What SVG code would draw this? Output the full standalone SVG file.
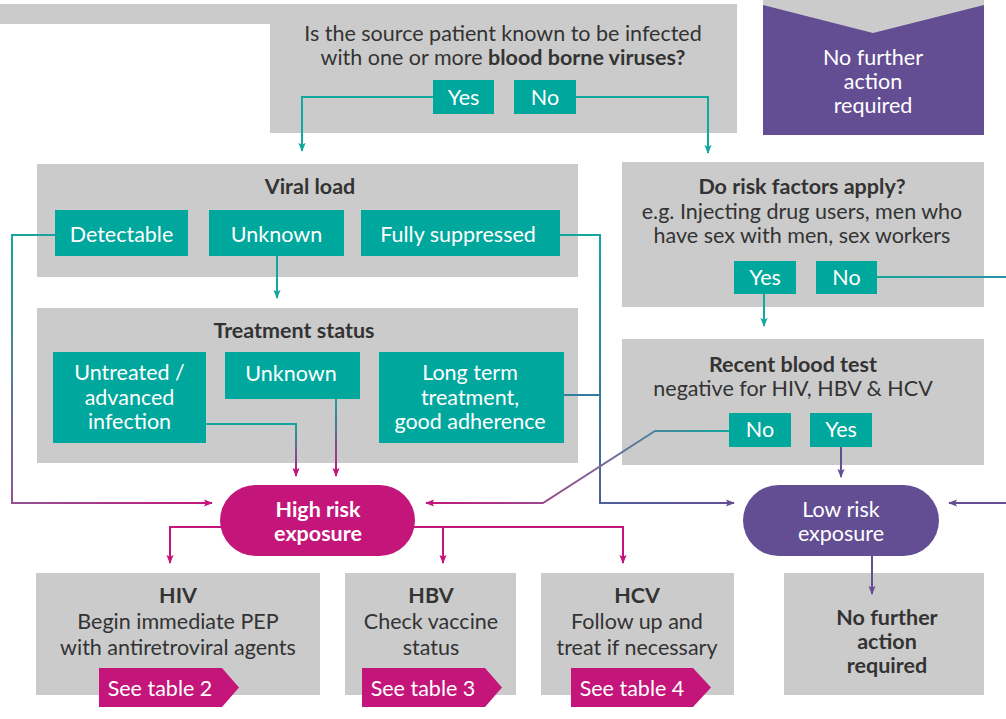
<svg xmlns="http://www.w3.org/2000/svg" width="1006" height="719" viewBox="0 0 1006 719">
<style>
  text { font-family: Lato, "Open Sans", "Liberation Sans", sans-serif; font-size: 21.5px; text-anchor: middle; }
  .box { fill: #cbcbcb; }
  .btn { fill: #00a79d; }
  .t { fill: #333333; }
  .b { font-weight: bold; }
  .w { fill: #ffffff; }
  .hi { fill: #c4157a; }
  .lo { fill: #634e93; }
  .ln { fill: none; stroke-width: 2; }
  .teal { stroke: #13a89e; }
  .mag { stroke: #c4157a; }
  .pur { stroke: #634e93; }
</style>
<defs>
  <marker id="aT" viewBox="0 0 10 10" refX="9" refY="5" markerWidth="9" markerHeight="9" markerUnits="userSpaceOnUse" orient="auto"><path d="M0,1 L10,5 L0,9 L2,5 z" fill="#13a89e"/></marker>
  <marker id="aM" viewBox="0 0 10 10" refX="9" refY="5" markerWidth="9" markerHeight="9" markerUnits="userSpaceOnUse" orient="auto"><path d="M0,1 L10,5 L0,9 L2,5 z" fill="#c4157a"/></marker>
  <marker id="aP" viewBox="0 0 10 10" refX="9" refY="5" markerWidth="9" markerHeight="9" markerUnits="userSpaceOnUse" orient="auto"><path d="M0,1 L10,5 L0,9 L2,5 z" fill="#634e93"/></marker>
  <linearGradient id="gDet" gradientUnits="userSpaceOnUse" x1="12" y1="235" x2="212" y2="503"><stop offset="0" stop-color="#13a89e"/><stop offset="0.6" stop-color="#8a5a95"/><stop offset="1" stop-color="#c4157a"/></linearGradient>
  <linearGradient id="gTM1" gradientUnits="userSpaceOnUse" x1="0" y1="424" x2="0" y2="476"><stop offset="0" stop-color="#13a89e"/><stop offset="1" stop-color="#c4157a"/></linearGradient>
  <linearGradient id="gTM2" gradientUnits="userSpaceOnUse" x1="0" y1="399" x2="0" y2="476"><stop offset="0" stop-color="#13a89e"/><stop offset="1" stop-color="#c4157a"/></linearGradient>
  <linearGradient id="gSup" gradientUnits="userSpaceOnUse" x1="600" y1="235" x2="734" y2="503"><stop offset="0" stop-color="#13a89e"/><stop offset="0.6" stop-color="#3d6fa0"/><stop offset="1" stop-color="#634e93"/></linearGradient>
  <linearGradient id="gNo" gradientUnits="userSpaceOnUse" x1="727" y1="431" x2="426" y2="503"><stop offset="0" stop-color="#13a89e"/><stop offset="0.5" stop-color="#8a5a95"/><stop offset="1" stop-color="#c4157a"/></linearGradient>
  <linearGradient id="gRf" gradientUnits="userSpaceOnUse" x1="877" y1="0" x2="1006" y2="0"><stop offset="0" stop-color="#13a89e"/><stop offset="1" stop-color="#2a8fa8"/></linearGradient>
</defs>

<g id="question">
  <path class="box" d="M0,4 H737 V133 H270 V24 H0 Z"/>
  <text class="t" x="503" y="41">Is the source patient known to be infected</text>
  <text class="t" x="503" y="65">with one or more <tspan class="b">blood borne viruses?</tspan></text>
</g>
<g id="q-yes">
  <rect class="btn" x="433" y="80" width="61" height="34"/>
  <text class="w" x="463.5" y="105">Yes</text>
</g>
<g id="q-no">
  <rect class="btn" x="514" y="80" width="62" height="34"/>
  <text class="w" x="545" y="105">No</text>
</g>

<g id="top-no-action">
  <rect class="lo" x="763" y="0" width="221" height="135"/>
  <polygon class="box" points="763,0 984,0 984,5 873,33 763,5"/>
  <text class="w" x="873" y="65">No further</text>
  <text class="w" x="873" y="89">action</text>
  <text class="w" x="873" y="113">required</text>
</g>

<g id="viral-load">
  <rect class="box" x="37" y="164" width="541" height="113"/>
  <text class="t b" x="310" y="194">Viral load</text>
</g>
<g id="vl-detectable">
  <rect class="btn" x="55" y="210" width="133" height="46"/>
  <text class="w" x="121.5" y="242">Detectable</text>
</g>
<g id="vl-unknown">
  <rect class="btn" x="209" y="210" width="135" height="46"/>
  <text class="w" x="276.5" y="242">Unknown</text>
</g>
<g id="vl-suppressed">
  <rect class="btn" x="361" y="210" width="199" height="46"/>
  <text class="w" x="458" y="242">Fully suppressed</text>
</g>

<g id="treatment">
  <rect class="box" x="37" y="308" width="541" height="155"/>
  <text class="t b" x="294" y="338">Treatment status</text>
</g>
<g id="ts-untreated">
  <rect class="btn" x="53" y="352" width="153" height="91"/>
  <text class="w" x="129.5" y="380">Untreated /</text>
  <text class="w" x="129.5" y="405">advanced</text>
  <text class="w" x="129.5" y="429">infection</text>
</g>
<g id="ts-unknown">
  <rect class="btn" x="225" y="352" width="135" height="47"/>
  <text class="w" x="291" y="381">Unknown</text>
</g>
<g id="ts-longterm">
  <rect class="btn" x="379" y="352" width="185" height="91"/>
  <text class="w" x="470" y="380">Long term</text>
  <text class="w" x="470" y="405">treatment,</text>
  <text class="w" x="470" y="429">good adherence</text>
</g>

<g id="risk-factors">
  <rect class="box" x="622" y="162" width="362" height="145"/>
  <text class="t b" x="802" y="194">Do risk factors apply?</text>
  <text class="t" x="802" y="219">e.g. Injecting drug users, men who</text>
  <text class="t" x="802" y="243">have sex with men, sex workers</text>
</g>
<g id="rf-yes">
  <rect class="btn" x="734" y="261" width="62" height="33"/>
  <text class="w" x="765" y="285">Yes</text>
</g>
<g id="rf-no">
  <rect class="btn" x="816" y="261" width="61" height="33"/>
  <text class="w" x="846.5" y="285">No</text>
</g>

<g id="blood-test">
  <rect class="box" x="622" y="339" width="362" height="126"/>
  <text class="t b" x="793" y="372">Recent blood test</text>
  <text class="t" x="793" y="396">negative for HIV, HBV &amp; HCV</text>
</g>
<g id="bt-no">
  <rect class="btn" x="729" y="413" width="62" height="34"/>
  <text class="w" x="760" y="437">No</text>
</g>
<g id="bt-yes">
  <rect class="btn" x="810" y="413" width="62" height="34"/>
  <text class="w" x="841" y="437">Yes</text>
</g>

<g id="high-risk">
  <rect class="hi" x="220" y="485" width="195" height="71" rx="35.5"/>
  <text class="w b" x="318" y="517">High risk</text>
  <text class="w b" x="318" y="541">exposure</text>
</g>
<g id="low-risk">
  <rect class="lo" x="743" y="485" width="196" height="71" rx="35.5"/>
  <text class="w" x="841" y="517">Low risk</text>
  <text class="w" x="841" y="541">exposure</text>
</g>

<g id="hiv">
  <rect class="box" x="36" y="573" width="284" height="122"/>
  <text class="t b" x="178" y="603">HIV</text>
  <text class="t" x="178" y="629">Begin immediate PEP</text>
  <text class="t" x="178" y="655">with antiretroviral agents</text>
  <polygon class="hi" points="99,668 222,668 239,687.5 222,707 99,707"/>
  <text class="w" x="160" y="696">See table 2</text>
</g>
<g id="hbv">
  <rect class="box" x="345" y="573" width="171" height="122"/>
  <text class="t b" x="431" y="603">HBV</text>
  <text class="t" x="431" y="629">Check vaccine</text>
  <text class="t" x="431" y="655">status</text>
  <polygon class="hi" points="362,668 485,668 502,687.5 485,707 362,707"/>
  <text class="w" x="423" y="696">See table 3</text>
</g>
<g id="hcv">
  <rect class="box" x="541" y="573" width="193" height="122"/>
  <text class="t b" x="637" y="603">HCV</text>
  <text class="t" x="637" y="629">Follow up and</text>
  <text class="t" x="637" y="655">treat if necessary</text>
  <polygon class="hi" points="571,668 693,668 711,687.5 693,707 571,707"/>
  <text class="w" x="632" y="696">See table 4</text>
</g>
<g id="bottom-no-action">
  <rect class="box" x="784" y="573" width="200" height="122"/>
  <text class="t b" x="887" y="625">No further</text>
  <text class="t b" x="887" y="649">action</text>
  <text class="t b" x="887" y="673">required</text>
</g>

<g id="connectors">
  <path class="ln teal" d="M433,97 H302 V151" marker-end="url(#aT)"/>
  <path class="ln teal" d="M576,97 H708 V153" marker-end="url(#aT)"/>
  <path class="ln teal" d="M277,256 V298" marker-end="url(#aT)"/>
  <path class="ln" stroke="url(#gDet)" d="M55,235 H12 V503 H212" marker-end="url(#aM)"/>
  <path class="ln" stroke="url(#gSup)" d="M560,235 H600 V503 H734" marker-end="url(#aP)"/>
  <path class="ln" stroke="url(#gSup)" d="M564,395 H600"/>
  <path class="ln" stroke="url(#gTM1)" d="M206,424 H296 V476" marker-end="url(#aM)"/>
  <path class="ln" stroke="url(#gTM2)" d="M336,399 V476" marker-end="url(#aM)"/>
  <path class="ln" stroke="url(#gNo)" d="M729,431 H655 L543,503 H426" marker-end="url(#aM)"/>
  <path class="ln teal" d="M764,294 V326" marker-end="url(#aT)"/>
  <path class="ln" stroke="url(#gRf)" d="M877,277 H1006"/>
  <path class="ln pur" d="M841,447 V477" marker-end="url(#aP)"/>
  <path class="ln pur" d="M1006,503 H949" marker-end="url(#aP)"/>
  <path class="ln pur" d="M872,556 V594" marker-end="url(#aP)"/>
  <path class="ln mag" d="M221,527 H170 V563" marker-end="url(#aM)"/>
  <path class="ln mag" d="M414,527 H623 V563" marker-end="url(#aM)"/>
  <path class="ln mag" d="M443,527 V563" marker-end="url(#aM)"/>
</g>
</svg>
